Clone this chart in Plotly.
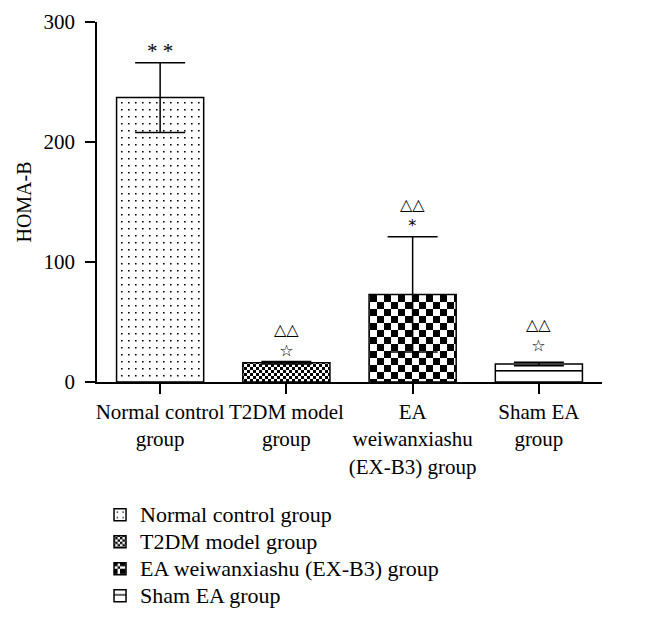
import plotly.graph_objects as go

categories = ["Normal control group", "T2DM model group",
              "EA weiwanxiashu (EX-B3) group", "Sham EA group"]
tick_labels = ["Normal control<br>group", "T2DM model<br>group",
               "EA<br>weiwanxiashu<br>(EX-B3) group", "Sham EA<br>group"]
homa_b = [237, 16, 73, 15]
homa_b_err = [29, 1, 48, 1.5]
marks_top = ["* *", "△△", "△△", "△△"]
marks_low = ["", "☆", "*", "☆"]
marks_y = [276, 35, 139, 39]

patterns = [
    dict(path="M3,3h1.6v1.6h-1.6Z", size=7),
    dict(path="M0,0h3v3h-3Z M3,3h3v3h-3Z", size=6),
    dict(path="M0,0h7v7h-7Z M7,7h7v7h-7Z", size=14),
    dict(path="M0,8h20v1.6h-20Z", size=20),
]

serif = "Liberation Serif, Times New Roman, serif"
fig = go.Figure()
for i, name in enumerate(categories):
    p = patterns[i]
    fig.add_trace(go.Bar(
        x=[i], y=[homa_b[i]],
        name='<span style="font-size:22px">' + name + '</span>',
        width=0.69,
        marker=dict(color="white", line=dict(color="black", width=1.5),
                    pattern=dict(path=p["path"], size=p["size"],
                                 fgcolor="black", bgcolor="white",
                                 fgopacity=1, fillmode="replace")),
        error_y=dict(type="data", array=[homa_b_err[i]], visible=True,
                     color="black", thickness=1.5, width=25),
    ))

annotations = []
for i in range(4):
    if marks_low[i]:
        txt = marks_top[i] + "<br>" + marks_low[i]
        fam, fsize = "DejaVu Sans", 16
    else:
        txt = marks_top[i]
        fam, fsize = serif, 21
    annotations.append(dict(x=i, y=marks_y[i], text=txt, showarrow=False,
                            xref="x", yref="y",
                            font=dict(family=fam, size=fsize, color="black")))

fig.update_layout(
    width=653, height=625,
    margin=dict(l=89, r=59, t=14, b=251, pad=0, autoexpand=False),
    paper_bgcolor="white", plot_bgcolor="white",
    font=dict(family=serif, size=20, color="black"),
    showlegend=True,
    legend=dict(x=0.006, y=0.219, yref="container", xanchor="left", yanchor="top",
                font=dict(family=serif, size=18.5), tracegroupgap=0,
                itemclick=False, bgcolor="rgba(0,0,0,0)"),
    annotations=annotations,
    xaxis=dict(range=[-0.5, 3.5], tickmode="array", tickvals=[0, 1, 2, 3],
               ticktext=tick_labels, showline=True, linecolor="black",
               linewidth=1.5, ticks="outside", ticklen=10, tickwidth=1.5,
               tickcolor="black", showgrid=False, zeroline=False, automargin=False,
               tickfont=dict(family=serif, size=21)),
    yaxis=dict(range=[0, 300], tickvals=[0, 100, 200, 300], showline=True,
               linecolor="black", linewidth=1.5, ticks="outside", ticklen=10,
               tickwidth=1.5, tickcolor="black", showgrid=False, zeroline=False,
               ticklabelstandoff=6, automargin=False,
               title=dict(text="HOMA-B", font=dict(family=serif, size=20), standoff=7),
               tickfont=dict(family=serif, size=21)),
)
fig.write_html("out.html")
